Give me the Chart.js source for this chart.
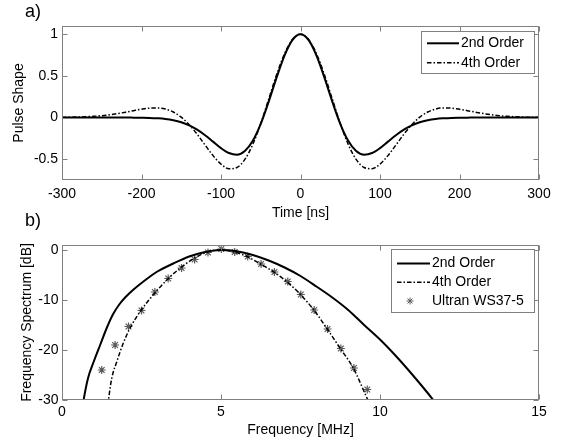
<!DOCTYPE html>
<html><head><meta charset="utf-8">
<script src="https://cdn.jsdelivr.net/npm/chart.js@4.4.1/dist/chart.umd.min.js"></script>
<style>
html,body{margin:0;padding:0;background:#fff;}
#wrap{position:relative;width:564px;height:447px;overflow:hidden;background:#fff;}
canvas{position:absolute;left:0;}
#c1{top:0;} #c2{top:226px;}
.lab{position:absolute;left:25px;font:18px "Liberation Sans",Arial,sans-serif;line-height:18px;color:#000;z-index:2;}
</style></head><body>
<div id="wrap">
<canvas id="c1" width="564" height="226"></canvas>
<canvas id="c2" width="564" height="221"></canvas>
<div class="lab" style="top:2px">a)</div>
<div class="lab" style="top:211px">b)</div>
</div>
<script>
// ---------- data: panel a) ----------
const timeNs = [-300,-290,-280,-270,-260,-250,-240,-230,-220,-210,-200,-190,-180,-170,-160,-150,-140,-130,-120,-110,-100,-90,-80,-70,-60,-50,-40,-30,-20,-10,0,10,20,30,40,50,60,70,80,90,100,110,120,130,140,150,160,170,180,190,200,210,220,230,240,250,260,270,280,290,300];
const pulse2nd = [0,0,0,0,0,0,0,0,0,-0.001,-0.002,-0.004,-0.009,-0.017,-0.032,-0.056,-0.093,-0.145,-0.212,-0.289,-0.367,-0.426,-0.446,-0.402,-0.279,-0.075,0.192,0.483,0.748,0.933,1,0.933,0.748,0.483,0.192,-0.075,-0.279,-0.402,-0.446,-0.426,-0.367,-0.289,-0.212,-0.145,-0.093,-0.056,-0.032,-0.017,-0.009,-0.004,-0.002,-0.001,0,0,0,0,0,0,0,0,0];
const pulse4th = [0.002,0.0035,0.006,0.010,0.015,0.023,0.034,0.048,0.065,0.083,0.100,0.113,0.116,0.102,0.067,0.005,-0.086,-0.200,-0.330,-0.457,-0.559,-0.615,-0.600,-0.503,-0.322,-0.071,0.222,0.517,0.769,0.940,1,0.940,0.769,0.517,0.222,-0.071,-0.322,-0.503,-0.600,-0.615,-0.559,-0.457,-0.330,-0.200,-0.086,0.005,0.067,0.102,0.116,0.113,0.100,0.083,0.065,0.048,0.034,0.023,0.015,0.010,0.006,0.0035,0.002];
const timeTicks = [-300,-200,-100,0,100,200,300];
const pulseTicks = [-0.5,0,0.5,1];

// ---------- data: panel b) ----------
const freq2nd = [0.6,0.68,0.82,1.0,1.2,1.4,1.6,1.8,2.0,2.25,2.5,2.75,3.0,3.5,4.0,4.5,5.0,5.5,6.0,6.5,7.0,7.5,8.0,8.5,9.0,9.5,10.0,10.5,11.0,11.5,11.7,11.8];
const spec2nd = [-33.5,-30,-25.6,-22.3,-19.0,-15.7,-12.9,-10.9,-9.4,-7.9,-6.6,-5.4,-4.3,-2.7,-1.3,-0.4,0,-0.25,-1.0,-2.1,-3.5,-5.2,-7.3,-9.5,-12.0,-15.0,-17.9,-21.2,-24.8,-28.6,-30.2,-31];
const freq4th = [1.4,1.46,1.57,1.73,1.91,2.15,2.47,2.92,3.36,3.78,4.2,4.62,5.0,5.4,5.82,6.24,6.66,7.08,7.5,7.92,8.32,8.74,9.16,9.62,9.7];
const spec4th = [-33,-30,-25.5,-22.2,-18.9,-15.5,-12.2,-8.6,-5.6,-3.3,-1.5,-0.3,0,-0.4,-1.3,-2.8,-4.4,-6.4,-8.9,-12.0,-15.6,-19.6,-23.6,-30,-31];
const freqMeas = [1.25,1.67,2.09,2.5,2.92,3.34,3.76,4.17,4.59,5.01,5.43,5.84,6.26,6.68,7.1,7.51,7.93,8.35,8.77,9.18,9.6];
const specMeas = [-24.0,-19.0,-15.3,-12.1,-8.4,-5.7,-3.6,-1.9,-0.5,0.2,-0.4,-1.3,-2.8,-4.4,-6.3,-8.9,-12.0,-15.8,-19.7,-23.6,-27.9];
const freqTicks = [0,5,10,15];
const specTicks = [-30,-20,-10,0];

const labels2 = ['2nd Order','4th Order','Ultran WS37-5'];

// ---------- styling ----------
const FONT = '"Liberation Sans", Arial, sans-serif';
Chart.defaults.font.family = FONT;
Chart.defaults.font.size = 14;
Chart.defaults.color = '#000';
const AXIS_COLOR = '#808080';
const DASHDOT = [4.5,2,1.5,2];

function pts(xs, ys){ return xs.map((x,i)=>({x:x, y:ys[i]})); }

const framePlugin = {
  id: 'frame',
  afterDraw(chart, args, opts) {
    const {ctx, chartArea: a} = chart;
    const xs = chart.scales.x, ys = chart.scales.y;
    ctx.save();
    ctx.strokeStyle = AXIS_COLOR; ctx.lineWidth = 1;
    const L = Math.round(a.left)+0.5, R = Math.round(a.right)-0.5, T = Math.round(a.top)+0.5, B = Math.round(a.bottom)-0.5;
    ctx.strokeRect(L, T, R-L, B-T);
    const tl = 5;
    ctx.beginPath();
    xs.ticks.forEach(t => { const p = Math.round(xs.getPixelForValue(t.value))+0.5; ctx.moveTo(p,B); ctx.lineTo(p,B-tl); ctx.moveTo(p,T); ctx.lineTo(p,T+tl); });
    ys.ticks.forEach(t => { const p = Math.round(ys.getPixelForValue(t.value))+0.5; ctx.moveTo(L,p); ctx.lineTo(L+tl,p); ctx.moveTo(R,p); ctx.lineTo(R-tl,p); });
    ctx.stroke();
    // legend
    const lg = opts.legend;
    if (lg) {
      ctx.fillStyle = '#fff';
      ctx.fillRect(lg.x0, lg.y0, lg.x1-lg.x0, lg.y1-lg.y0);
      ctx.strokeStyle = AXIS_COLOR;
      ctx.strokeRect(lg.x0+0.5, lg.y0+0.5, lg.x1-lg.x0, lg.y1-lg.y0);
      chart.data.datasets.forEach((ds, i) => {
        const y = lg.rows[i];
        ctx.strokeStyle = '#000';
        if (ds.showLine === false) {
          const cx = lg.starX, r = 3.5;
          ctx.strokeStyle = ds.pointBorderColor; ctx.lineWidth = 1;
          ctx.beginPath();
          for (let k=0;k<4;k++){ const ang = k*Math.PI/4; ctx.moveTo(cx-r*Math.cos(ang), y-r*Math.sin(ang)); ctx.lineTo(cx+r*Math.cos(ang), y+r*Math.sin(ang)); }
          ctx.stroke();
        } else {
          ctx.lineWidth = ds.borderWidth;
          ctx.setLineDash(ds.borderDash || []);
          ctx.beginPath(); ctx.moveTo(lg.lx0, y); ctx.lineTo(lg.lx1, y); ctx.stroke();
          ctx.setLineDash([]);
        }
        ctx.fillStyle = '#000';
        ctx.font = '14px ' + FONT;
        ctx.textBaseline = 'middle'; ctx.textAlign = 'left';
        ctx.fillText(ds.label, lg.tx, y);
      });
    }
    ctx.restore();
  }
};

function scaleOpts(min, max, ticksArr, fixed, isX, title, tickPad, titlePad) {
  return {
    type: 'linear', min: min, max: max,
    afterBuildTicks: s => { s.ticks = ticksArr.map(v => ({value: v})); },
    afterFit: s => { if (isX) s.height = fixed; else s.width = fixed; },
    grid: {display: false, drawTicks: false},
    border: {display: false},
    ticks: {padding: tickPad, autoSkip: false, maxRotation: 0, color: '#000', callback: v => String(v)},
    title: {display: true, text: title, color: '#000', padding: titlePad}
  };
}

new Chart(document.getElementById('c1'), {
  type: 'line',
  data: {
    datasets: [
      {label: '2nd Order', data: pts(timeNs, pulse2nd), borderColor: '#000', borderWidth: 2, pointRadius: 0, cubicInterpolationMode: 'monotone', fill: false},
      {label: '4th Order', data: pts(timeNs, pulse4th), borderColor: '#000', borderWidth: 1.5, borderDash: DASHDOT, pointRadius: 0, cubicInterpolationMode: 'monotone', fill: false}
    ]
  },
  options: {
    responsive: false, animation: false, devicePixelRatio: 1,
    layout: {padding: {left: 0, right: 25, top: 26, bottom: 0}},
    plugins: {legend: {display: false}, tooltip: {enabled: false},
      frame: {legend: {x0: 421, y0: 31, x1: 534, y1: 73, rows: [43.3, 62.8], lx0: 427, lx1: 459, tx: 461, starX: 443}}},
    scales: {
      x: scaleOpts(-300, 300, timeTicks, 46, true, 'Time [ns]', 5.4, {top: 0, bottom: 4.6}),
      y: scaleOpts(-0.75, 1.1, pulseTicks, 62, false, 'Pulse Shape', 4, {top: 10.9, bottom: 0})
    }
  },
  plugins: [framePlugin]
});

new Chart(document.getElementById('c2'), {
  type: 'line',
  data: {
    datasets: [
      {label: labels2[0], data: pts(freq2nd, spec2nd), borderColor: '#000', borderWidth: 2, pointRadius: 0, cubicInterpolationMode: 'monotone', fill: false},
      {label: labels2[1], data: pts(freq4th, spec4th), borderColor: '#000', borderWidth: 1.5, borderDash: DASHDOT, pointRadius: 0, cubicInterpolationMode: 'monotone', fill: false},
      {label: labels2[2], data: pts(freqMeas, specMeas), showLine: false, pointStyle: 'star', pointRadius: 4, pointBorderColor: '#5a5a5a', pointBorderWidth: 1.2, pointBackgroundColor: '#5a5a5a'}
    ]
  },
  options: {
    responsive: false, animation: false, devicePixelRatio: 1,
    layout: {padding: {left: 0, right: 25, top: 19, bottom: 0}},
    plugins: {legend: {display: false}, tooltip: {enabled: false},
      frame: {legend: {x0: 391, y0: 23, x1: 534, y1: 86, rows: [37.5, 56.3, 75], lx0: 397, lx1: 430, tx: 432, starX: 410}}},
    scales: {
      x: scaleOpts(0, 15, freqTicks, 47, true, 'Frequency [MHz]', 4.1, {top: 0, bottom: 8.1}),
      y: scaleOpts(-30, 1, specTicks, 62, false, 'Frequency Spectrum [dB]', 3.5, {top: 18.3, bottom: 0})
    }
  },
  plugins: [framePlugin]
});
</script>
</body></html>
